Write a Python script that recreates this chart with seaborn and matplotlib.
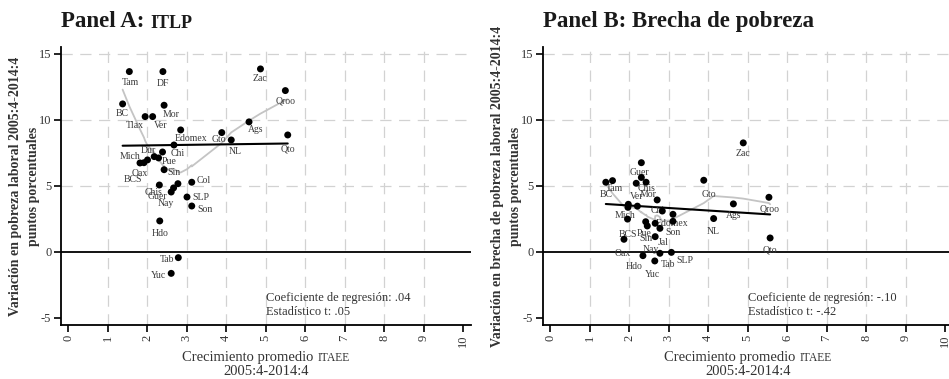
import numpy as np
import pandas as pd
import matplotlib
matplotlib.use('Agg')
import matplotlib.pyplot as plt
import seaborn as sns

# Panel A: variación en pobreza laboral (ITLP) vs crecimiento promedio ITAEE
estados_a = ['Tam', 'DF', 'BC', 'Mor', 'Tlax', 'Ver', 'Edomex', 'Gto', 'NL', 'Ags', 'Zac', 'Qroo', 'Qto',
             'Chi', 'Dur', '', 'Pue', 'Mich', 'Oax', 'BCS', 'Sin', 'Col', 'Chis', '', 'Guer', 'Nay',
             'SLP', 'Son', 'Hdo', 'Tab', 'Yuc']
crec_a = [1.55, 2.40, 1.38, 2.43, 1.95, 2.14, 2.85, 3.89, 4.13, 4.58, 4.87, 5.50, 5.56,
          2.68, 2.39, 2.18, 2.29, 1.82, 1.92, 2.01, 2.43, 3.13, 2.31, 2.78, 2.67, 2.61,
          3.01, 3.13, 2.32, 2.79, 2.61]
var_a = [13.64, 13.64, 11.19, 11.09, 10.23, 10.23, 9.22, 9.02, 8.46, 9.83, 13.84, 12.20, 8.84,
         8.08, 7.55, 7.20, 7.10, 6.72, 6.74, 6.95, 6.21, 5.26, 5.05, 5.15, 4.83, 4.52,
         4.14, 3.46, 2.33, -0.45, -1.64]
coef_a = '.04'
tstat_a = '.05'
recta_a = (7.97, 0.04)  # intercepto, pendiente de la recta dibujada

# Panel B: variación en brecha de pobreza laboral vs crecimiento promedio ITAEE
estados_b = ['BC', 'Tam', 'Guer', 'Chis', 'Ver', 'Mor', 'Chi', 'Mich', '', '', '', 'Edomex',
             'BCS', 'Pue', 'Sin', '', 'Son', 'Jal', 'Oax', 'Nay', 'Hdo', 'Tab', 'SLP', 'Yuc',
             'Zac', 'Gto', 'Ags', 'Qroo', 'NL', 'Qto']
crec_b = [1.41, 1.58, 2.31, 2.31, 2.18, 2.43, 2.71, 1.98, 1.97, 2.21, 2.84, 3.11,
          1.96, 2.42, 2.46, 2.66, 3.11, 2.78, 1.87, 2.66, 2.35, 2.78, 3.07, 2.65,
          4.89, 3.89, 4.64, 5.54, 4.14, 5.57]
var_b = [5.26, 5.38, 6.74, 5.62, 5.18, 5.26, 3.92, 3.59, 3.36, 3.45, 3.08, 2.83,
         2.47, 2.27, 1.95, 2.15, 2.30, 1.77, 0.94, 1.14, -0.30, -0.12, -0.05, -0.70,
         8.24, 5.41, 3.62, 4.12, 2.51, 1.04]
coef_b = '-.10'
tstat_b = '-.42'
recta_b = (3.88, -0.19)

# desplazamiento de las etiquetas (pixeles, hacia abajo positivo)
desp_a = {'Tam': (1, 11), 'DF': (0, 12), 'BC': (0, 10), 'Mor': (7, 9), 'Tlax': (-10, 9), 'Ver': (8, 9),
          'Edomex': (10, 9), 'Gto': (-3, 7), 'NL': (4, 12), 'Ags': (7, 8), 'Zac': (-1, 10), 'Qroo': (0, 10),
          'Qto': (0, 14), 'Chi': (4, 9), 'Dur': (-14, -1), 'Pue': (11, 4), 'Mich': (-10, -6), 'Oax': (-4, 11),
          'BCS': (-15, 20), 'Sin': (10, 3), 'Col': (12, -2), 'Chis': (-6, 7), 'Guer': (-16, 9), 'Nay': (-5, 11),
          'SLP': (14, 0), 'Son': (13, 3), 'Hdo': (0, 13), 'Tab': (-11, 2), 'Yuc': (-13, 2)}
desp_b = {'BC': (0, 12), 'Tam': (2, 8), 'Guer': (-2, 10), 'Chis': (5, 11), 'Ver': (0, 13), 'Mor': (2, 12),
          'Chi': (1, 11), 'Mich': (-3, 11), 'Edomex': (-1, 9), 'BCS': (0, 15), 'Pue': (-2, 12), 'Sin': (-1, 13),
          'Son': (0, 11), 'Jal': (3, 14), 'Oax': (-1, 14), 'Nay': (-4, 13), 'Hdo': (-9, 11), 'Tab': (8, 11),
          'SLP': (14, 8), 'Yuc': (-2, 14), 'Zac': (0, 11), 'Gto': (5, 14), 'Ags': (0, 12), 'Qroo': (1, 12),
          'NL': (0, 13), 'Qto': (0, 12)}

sns.set_style('white')
plt.rcParams['font.family'] = ['Liberation Serif', 'DejaVu Serif']
plt.rcParams['axes.unicode_minus'] = False
GRIS = '#333333'


def lowess(x, y, bw=0.8):
    # suavizado tipo lowess (ventana centrada, pesos tricubo, recta local)
    orden = np.argsort(x, kind='mergesort')
    xs = np.asarray(x, float)[orden]
    ys = np.asarray(y, float)[orden]
    n = len(xs)
    k = int(np.floor((n * bw - 0.5) / 2))
    ajuste = np.empty(n)
    for i in range(n):
        lo, hi = max(0, i - k), min(n - 1, i + k)
        delta = 1.0001 * max(xs[hi] - xs[i], xs[i] - xs[lo])
        xw, yw = xs[lo:hi + 1], ys[lo:hi + 1]
        w = (1 - (np.abs(xw - xs[i]) / delta) ** 3) ** 3
        xm = (w * xw).sum() / w.sum()
        ym = (w * yw).sum() / w.sum()
        sxx = (w * (xw - xm) ** 2).sum()
        b = (w * (xw - xm) * (yw - ym)).sum() / sxx if sxx > 0 else 0
        ajuste[i] = ym + b * (xs[i] - xm)
    return xs, ajuste


def texto_partes(ax, partes, xy, coords, offset, **kw):
    # texto con versalitas simuladas: partes = [(texto, tamaño), ...]
    t = ax.annotate(partes[0][0], xy=xy, xycoords=coords, xytext=offset, textcoords='offset pixels',
                    fontsize=partes[0][1], ha='left', va='baseline', annotation_clip=False, **kw)
    primero = t
    for texto, tam in partes[1:]:
        t = ax.annotate(texto, xy=(1, 0), xycoords=t, xytext=(0, 0), textcoords='offset pixels',
                        fontsize=tam, ha='left', va='bottom', annotation_clip=False, **kw)
    return primero, t


def dibujar_panel(ax, estados, x, y, desp, coef, tstat, recta, titulo, ylab):
    df = pd.DataFrame({'crec': x, 'var': y, 'estado': estados})

    ax.set_xlim(-0.18, 10.2)
    ax.set_ylim(-5.55, 15.5)
    ax.set_xticks(range(0, 11))
    ax.set_yticks([-5, 0, 5, 10, 15])
    ax.grid(True, color='#d2d2d2', lw=0.9, ls=(0, (9, 6)))
    for g in ax.xaxis.get_gridlines()[:1] + ax.xaxis.get_gridlines()[-1:]:
        g.set_visible(False)
    for g in ax.yaxis.get_gridlines()[:2]:
        g.set_visible(False)
    ax.set_axisbelow(True)

    ax.axhline(0, color='black', lw=1.3, zorder=2)

    xs, suave = lowess(x, y)
    sns.lineplot(x=xs, y=suave, ax=ax, color='#c4c4c4', lw=1.3, estimator=None, sort=False, zorder=2)

    # recta de regresión en el rango de los datos
    xr = np.array([df['crec'].min(), df['crec'].max()])
    sns.lineplot(x=xr, y=recta[0] + recta[1] * xr, ax=ax, color='black', lw=1.5, zorder=3)

    sns.scatterplot(data=df, x='crec', y='var', ax=ax, color='black', s=25, edgecolor='none', zorder=4)

    for _, fila in df.iterrows():
        if fila['estado'] == '':
            continue
        dx, dy = desp.get(fila['estado'], (0, 11))
        ax.annotate(fila['estado'], (fila['crec'], fila['var']), xytext=(dx, -dy), textcoords='offset pixels',
                    ha='center', va='center', fontsize=7, color='#3a3a3a')

    ax.text(5.0, -3.5, 'Coeficiente de regresión: ' + coef, fontsize=9, color=GRIS, va='center')
    ax.text(5.0, -4.57, 'Estadístico t: ' + tstat, fontsize=9, color=GRIS, va='center')

    sns.despine(ax=ax)
    for s in ['left', 'bottom']:
        ax.spines[s].set_linewidth(1.3)
        ax.spines[s].set_color('black')
    ax.tick_params(axis='both', direction='out', length=5, width=1.2, color='black',
                   labelsize=9, labelcolor=GRIS, left=True, bottom=True, pad=2)
    ax.tick_params(axis='x', labelrotation=90)
    ax.set_xlabel('')
    ax.set_ylabel('')

    # título
    texto_partes(ax, titulo, (0, 1), 'axes fraction', (0, 20), weight='bold', color='#1a1a1a')

    # etiqueta eje y (dos líneas)
    ax.annotate(ylab[0], xy=(0, 0.5), xycoords='axes fraction', xytext=(-46, 0), textcoords='offset pixels',
                rotation=90, ha='center', va='center', fontsize=10, weight='bold', color=GRIS)
    ax.annotate(ylab[1], xy=(0, 0.5), xycoords='axes fraction', xytext=(-27, 0), textcoords='offset pixels',
                rotation=90, ha='center', va='center', fontsize=10, weight='bold', color=GRIS)

    # etiqueta eje x
    ini, fin = texto_partes(ax, [('Crecimiento promedio ', 10.5), ('ITAEE', 8.3)], (0.5, 0),
                            'axes fraction', (0, -36), color=GRIS)
    ax.annotate('2005:4-2014:4', xy=(0.5, 0), xycoords='axes fraction', xytext=(0, -50),
                textcoords='offset pixels', ha='center', va='baseline', fontsize=10.5, color=GRIS)
    return ini, fin


fig = plt.figure(figsize=(9.49, 3.79), dpi=100)
ax_a = fig.add_axes([61 / 949, 54 / 379, 410 / 949, 278 / 379])
ax_b = fig.add_axes([543 / 949, 54 / 379, 410 / 949, 278 / 379])

xl_a = dibujar_panel(ax_a, estados_a, crec_a, var_a, desp_a, coef_a, tstat_a, recta_a,
                     [('Panel A: ', 16.5), ('ITLP', 13)],
                     ['Variación en pobreza laboral 2005:4-2014:4', 'puntos porcentuales'])
xl_b = dibujar_panel(ax_b, estados_b, crec_b, var_b, desp_b, coef_b, tstat_b, recta_b,
                     [('Panel B: Brecha de pobreza', 16.5)],
                     ['Variación en brecha de pobreza laboral 2005:4-2014:4', 'puntos porcentuales'])

# centrar la etiqueta del eje x compuesta
fig.canvas.draw()
rend = fig.canvas.get_renderer()
for ini, fin in [xl_a, xl_b]:
    ancho = fin.get_window_extent(rend).x1 - ini.get_window_extent(rend).x0
    ini.xyann = (-ancho / 2, -36)

fig.savefig('out.png', dpi=100, facecolor='white')
